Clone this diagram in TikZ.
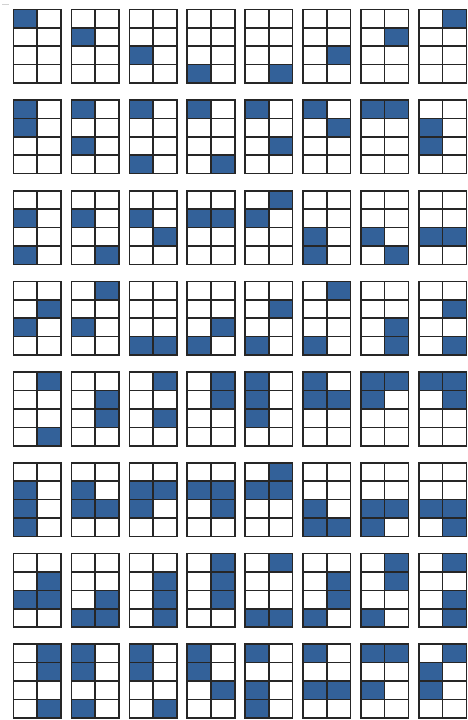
\documentclass[tikz,border=0pt]{standalone}
\definecolor{cellblue}{RGB}{51,97,153}
\begin{document}
\begin{tikzpicture}[x=1pt,y=-1pt,
  cellfill/.style={fill=cellblue},
  gridline/.style={draw=black!85, line width=1.6pt, line cap=rect}]
\useasboundingbox (0,0) rectangle (467,720);
\draw[gray!35, line width=0.6pt] (2,4.5) -- (9,4.5);
\foreach \p [count=\k from 0] in {%
 {0/0},{0/1},{0/2},{0/3},{1/3},{1/2},{1/1},{1/0},
 {0/0,0/1},{0/0,0/2},{0/0,0/3},{0/0,1/3},{0/0,1/2},{0/0,1/1},{0/0,1/0},{0/1,0/2},
 {0/1,0/3},{0/1,1/3},{0/1,1/2},{0/1,1/1},{1/0,0/1},{0/2,0/3},{0/2,1/3},{0/2,1/2},
 {1/1,0/2},{1/0,0/2},{0/3,1/3},{1/2,0/3},{1/1,0/3},{1/0,0/3},{1/2,1/3},{1/1,1/3},
 {1/0,1/3},{1/1,1/2},{1/0,1/2},{1/0,1/1},{0/0,0/1,0/2},{0/0,0/1,1/1},{0/0,1/0,0/1},{0/0,1/0,1/1},
 {0/1,0/2,0/3},{0/1,0/2,1/2},{0/1,1/1,0/2},{0/1,1/1,1/2},{1/0,0/1,1/1},{0/2,0/3,1/3},{0/2,1/2,0/3},{0/2,1/2,1/3},
 {1/1,0/2,1/2},{1/2,0/3,1/3},{1/1,1/2,1/3},{1/0,1/1,1/2},{1/0,0/3,1/3},{1/1,1/2,0/3},{1/0,1/1,0/3},{1/0,1/2,1/3},
 {1/0,1/1,1/3},{0/0,0/1,0/3},{0/0,0/1,1/3},{0/0,0/1,1/2},{0/0,0/2,0/3},{0/0,0/2,1/2},{0/0,1/0,0/2},{1/0,0/1,0/2}}{
  \pgfmathsetmacro\gx{13.5+57.9*mod(\k,8)}
  \pgfmathsetmacro\gy{9.3+90.7*floor(\k/8)}
  \begin{scope}[shift={(\gx,\gy)}]
    \foreach \c/\r in \p {
      \fill[cellfill] (\c*23.75,\r*18.4) rectangle ++(23.75,18.4);
    }
    \draw[gridline] (0,0) rectangle (47.5,73.6);
    \draw[gridline] (23.75,0) -- (23.75,73.6);
    \foreach \h in {18.4,36.8,55.2} {
      \draw[gridline] (0,\h) -- (47.5,\h);
    }
  \end{scope}
}
\end{tikzpicture}
\end{document}
